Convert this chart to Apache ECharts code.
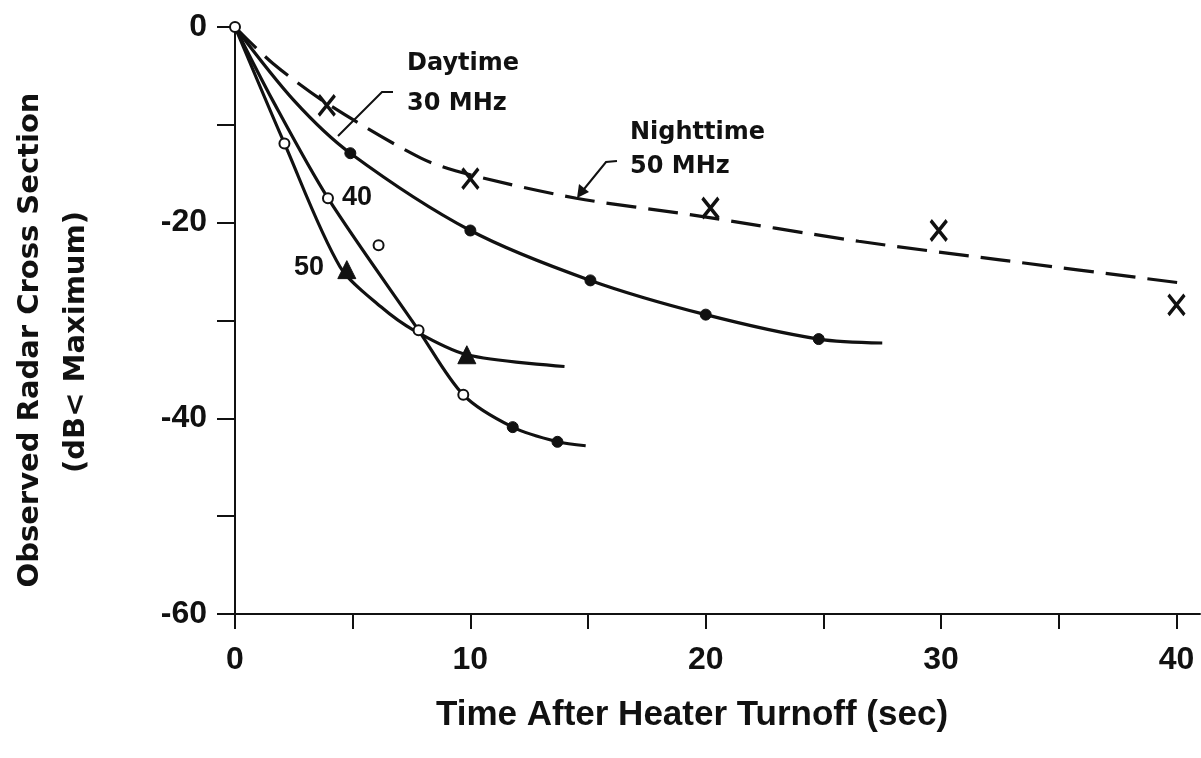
<!DOCTYPE html>
<html>
<head>
<meta charset="utf-8">
<script src="https://cdn.jsdelivr.net/npm/echarts@6/dist/echarts.min.js"></script>
<style>
  html, body { margin: 0; padding: 0; background: #fff; }
  #chart { width: 1201px; height: 758px; }
</style>
</head>
<body>
<div id="chart"></div>
<script>
// fitted curves: [time (sec), dB below maximum]
var nightCurve = [[0, 0], [1.6, -3.7], [3.9, -7.8], [7.9, -13.4], [10.0, -15.1], [14.5, -17.5],
  [19.4, -19.2], [26.5, -21.9], [32.5, -23.8], [40.3, -26.2]];
var dayCurve = [[0, 0], [2.5, -7.5], [4.9, -12.9], [10.0, -20.8], [15.1, -25.9],
  [20.0, -29.4], [24.8, -31.9], [27.5, -32.3]];
var curve40 = [[0, 0], [1.6, -7.5], [3.95, -17.5], [7.8, -31.0], [9.7, -37.6],
  [11.8, -40.9], [13.7, -42.4], [14.9, -42.8]];
var curve50 = [[0, 0], [2.1, -11.9], [4.46, -24.5], [6.2, -28.6], [7.6, -31.0],
  [9.85, -33.5], [14.0, -34.7]];

// measured points
var nightPoints = [[3.9, -8.0], [10.0, -15.5], [20.2, -18.5], [29.9, -20.8], [40.0, -28.4]];
var dayPoints = [[4.9, -12.9], [10.0, -20.8], [15.1, -25.9], [20.0, -29.4], [24.8, -31.9]];
var open40Points = [[0, 0], [2.1, -11.9], [3.95, -17.5], [6.1, -22.3], [7.8, -31.0], [9.7, -37.6]];
var dot40Points = [[11.8, -40.9], [13.7, -42.4]];
var tri50Points = [[4.75, -24.8], [9.85, -33.5]];

var xTicks = [0, 10, 20, 30, 40];
var yTicks = [0, -20, -40, -60];

var font = 'Liberation Sans';
var wide = 'DejaVu Sans';
var ink = '#111';

var chart = echarts.init(document.getElementById('chart'));

function curve(data, dashed) {
  return {
    type: 'line', data: data, smooth: 0.3, symbol: 'none', z: 2,
    lineStyle: { color: ink, width: 3.2, type: dashed ? [30, 12] : 'solid' }
  };
}
function points(data, symbol, size, filled, bw) {
  return {
    type: 'scatter', data: data, symbol: symbol, symbolSize: size, z: 3,
    itemStyle: {
      color: filled ? ink : '#fff',
      borderColor: ink,
      borderWidth: bw,
      opacity: 1
    }
  };
}

var option = {
  animation: false,
  backgroundColor: '#fff',
  grid: { left: 235, right: 1, top: 27, bottom: 144, outerBoundsMode: 'none', containLabel: false },
  xAxis: {
    type: 'value', min: 0, max: 41, interval: 5, position: 'bottom',
    axisLine: { onZero: false, lineStyle: { color: ink, width: 2 } },
    axisTick: { length: 15, lineStyle: { color: ink, width: 2 } },
    splitLine: { show: false },
    axisLabel: {
      margin: 30, color: ink, fontFamily: font, fontWeight: 'bold', fontSize: 32,
      showMaxLabel: false,
      formatter: function (v) { return xTicks.indexOf(v) >= 0 ? String(v) : ''; }
    }
  },
  yAxis: {
    type: 'value', min: -60, max: 0, interval: 10,
    axisLine: { onZero: false, lineStyle: { color: ink, width: 2 } },
    axisTick: { length: 18, lineStyle: { color: ink, width: 2 } },
    splitLine: { show: false },
    axisLabel: {
      margin: 28, color: ink, fontFamily: font, fontWeight: 'bold', fontSize: 32,
      formatter: function (v) { return yTicks.indexOf(v) >= 0 ? String(v) : ''; }
    }
  },
  series: [
    curve(nightCurve, true),
    curve(dayCurve, false),
    curve(curve40, false),
    curve(curve50, false),
    points(nightPoints, 'path://M0,0L10,12M10,0L0,12', [16, 20], false, 3.5),
    points(dayPoints, 'circle', 11, true, 1),
    points(open40Points, 'circle', 10, false, 2),
    points(dot40Points, 'circle', 11, true, 1),
    points(tri50Points, 'triangle', 18, true, 1)
  ],
  graphic: [
    // axis titles
    { type: 'text', x: 692, y: 715, style: { text: 'Time After Heater Turnoff (sec)', fill: ink, font: 'bold 35px ' + font, align: 'center', verticalAlign: 'middle' } },
    { type: 'text', x: 30, y: 340, rotation: Math.PI / 2, style: { text: 'Observed Radar Cross Section', fill: ink, font: 'bold 29px ' + wide, align: 'center', verticalAlign: 'middle' } },
    { type: 'text', x: 76, y: 342, rotation: Math.PI / 2, style: { text: '(dB< Maximum)', fill: ink, font: 'bold 29px ' + wide, align: 'center', verticalAlign: 'middle' } },
    // annotations
    { type: 'text', left: 407, top: 44, style: { text: 'Daytime\n30 MHz', fill: ink, font: 'bold 24px ' + wide, lineHeight: 40 } },
    { type: 'polyline', shape: { points: [[393, 92], [382, 92], [338, 136]] }, style: { stroke: ink, lineWidth: 2, fill: null } },
    { type: 'text', left: 630, top: 116, style: { text: 'Nighttime\n50 MHz', fill: ink, font: 'bold 24px ' + wide, lineHeight: 34 } },
    { type: 'polyline', shape: { points: [[617, 161], [606, 162], [580, 194]] }, style: { stroke: ink, lineWidth: 2, fill: null } },
    { type: 'polygon', shape: { points: [[577, 198], [579, 184], [589, 192]] }, style: { fill: ink } },
    { type: 'text', left: 342, top: 184, style: { text: '40', fill: ink, font: 'bold 27px ' + font } },
    { type: 'text', left: 294, top: 254, style: { text: '50', fill: ink, font: 'bold 27px ' + font } }
  ]
};

chart.setOption(option);
</script>
</body>
</html>
